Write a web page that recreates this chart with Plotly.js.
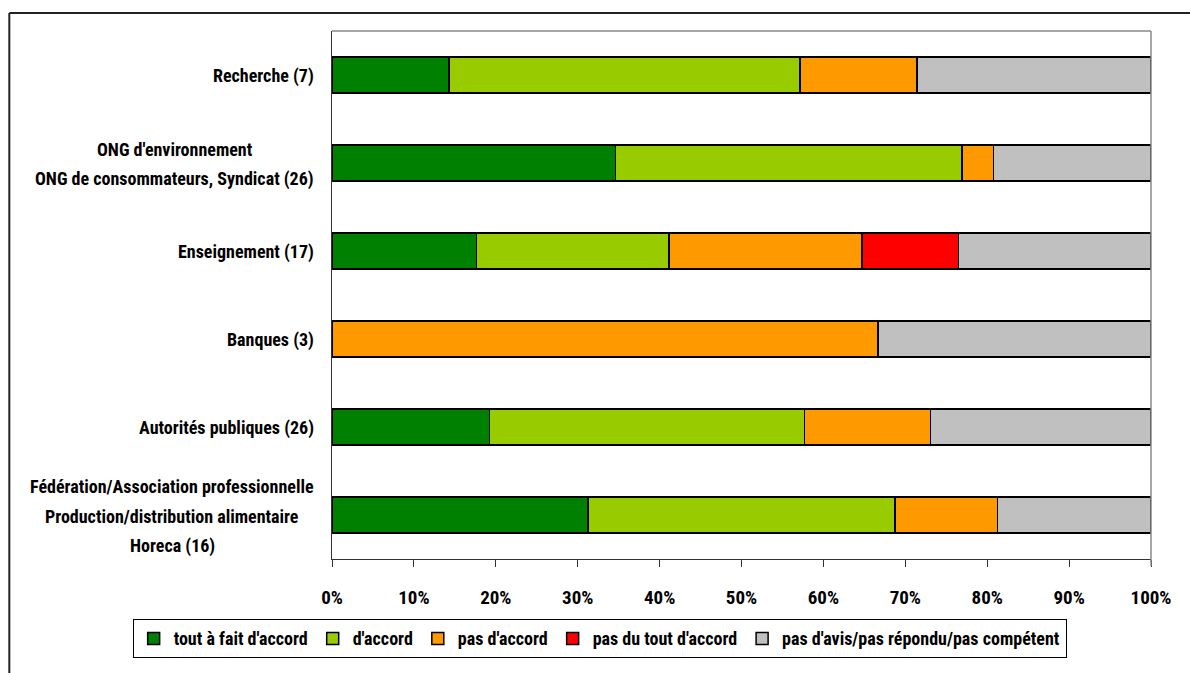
<!DOCTYPE html>
<html>
<head>
<meta charset="utf-8">
<script src="https://cdn.plot.ly/plotly-3.0.1.min.js"></script>
<style>html,body{margin:0;padding:0;background:#fff;}#chart{width:1190px;height:673px;}</style>
</head>
<body>
<div id="chart"></div>
<script>
// Categories (top to bottom)
const categories = [
  "Recherche (7)",
  "ONG d'environnement<br>ONG de consommateurs, Syndicat (26)",
  "Enseignement (17)",
  "Banques (3)",
  "Autorités publiques (26)",
  "Fédération/Association professionnelle<br>Production/distribution alimentaire<br>Horeca (16)"
];
// Series (response counts per category)
const seriesNames = ["tout à fait d'accord", "d'accord", "pas d'accord", "pas du tout d'accord", "pas d'avis/pas répondu/pas compétent"];
const toutAFait = [1, 9, 3, 0, 5, 5];
const dAccord = [3, 11, 4, 0, 10, 6];
const pasDAccord = [1, 1, 4, 2, 4, 2];
const pasDuTout = [0, 0, 2, 0, 0, 0];
const pasDAvis = [2, 5, 4, 1, 7, 3];
const tickValues = [0, 10, 20, 30, 40, 50, 60, 70, 80, 90, 100];
const tickLabels = ["0%", "10%", "20%", "30%", "40%", "50%", "60%", "70%", "80%", "90%", "100%"];

const colors = ["#008000", "#99CC00", "#FF9900", "#FF0000", "#C0C0C0"];
const seriesData = [toutAFait, dAccord, pasDAccord, pasDuTout, pasDAvis];

const FONT = "'Roboto Condensed', 'Open Sans', Arial, sans-serif";
const LABEL_SIZE = 18;
const LINE_GAP = 30;

const traces = seriesData.map((vals, i) => ({
  type: 'bar',
  orientation: 'h',
  name: seriesNames[i],
  y: categories,
  x: vals,
  marker: { color: colors[i], line: { color: '#000', width: 1.5 } },
  hoverinfo: 'none'
}));

// category labels: each line centred within its block, block right-aligned near the axis
const ctx = document.createElement('canvas').getContext('2d');
ctx.font = "bold " + LABEL_SIZE + "px 'Roboto Condensed'";
const plotLeft = 332, plotWidth = 819, labelRight = 314;
const annotations = [];
categories.forEach(c => {
  const lines = c.split('<br>');
  const maxW = Math.max(...lines.map(l => ctx.measureText(l).width));
  const cx = (labelRight - maxW / 2 - plotLeft) / plotWidth;
  const n = lines.length;
  lines.forEach((l, i) => {
    annotations.push({
      xref: 'paper', yref: 'y', x: cx, y: c,
      xanchor: 'center', yanchor: 'middle',
      yshift: ((n - 1) / 2 - i) * LINE_GAP - 1,
      text: l, showarrow: false,
      font: { family: FONT, size: LABEL_SIZE, weight: 'bold', color: '#000' }
    });
  });
});

const layout = {
  width: 1190, height: 673,
  margin: { l: 332, r: 39, t: 31, b: 114 },
  paper_bgcolor: '#fff', plot_bgcolor: '#fff',
  barmode: 'stack', barnorm: 'percent', bargap: 0.59,
  showlegend: true,
  font: { family: FONT, size: 18, weight: 'bold', color: '#000' },
  xaxis: {
    range: [0, 100], tickvals: tickValues, ticktext: tickLabels,
    showgrid: false, zeroline: false, showline: true, linecolor: '#333', linewidth: 1,
    ticks: 'outside', ticklen: 7, tickcolor: '#333', tickwidth: 1,
    ticklabelstandoff: 14,
    tickfont: { family: FONT, size: 19, weight: 'bold', color: '#000' },
    fixedrange: true
  },
  yaxis: {
    type: 'category', autorange: 'reversed',
    showticklabels: false, ticks: '',
    showgrid: false, zeroline: false, showline: true, linecolor: '#333', linewidth: 1,
    fixedrange: true
  },
  legend: {
    orientation: 'h', x: -0.2434, xanchor: 'left', y: -0.114, yanchor: 'top',
    bordercolor: '#000', borderwidth: 1, bgcolor: '#fff',
    font: { family: FONT, size: 18, weight: 'bold', color: '#000' },
    traceorder: 'normal', itemwidth: 30, tracegroupgap: 0
  },
  annotations: annotations,
  shapes: [
    { type: 'line', xref: 'paper', yref: 'paper', x0: 0, x1: 1, y0: 1, y1: 1, line: { color: '#888', width: 1.5 } },
    { type: 'line', xref: 'paper', yref: 'paper', x0: 1, x1: 1, y0: -0.013, y1: 1, line: { color: '#888', width: 1.5 } },
    { type: 'line', xref: 'paper', yref: 'paper', x0: -0.394, x1: 1.1, y0: 1.034, y1: 1.034, line: { color: '#222', width: 2 } },
    { type: 'line', xref: 'paper', yref: 'paper', x0: -0.394, x1: -0.394, y0: 1.034, y1: -0.3, line: { color: '#222', width: 2 } }
  ]
};

Plotly.newPlot('chart', traces, layout, { displayModeBar: false, staticPlot: true });
</script>
</body>
</html>
